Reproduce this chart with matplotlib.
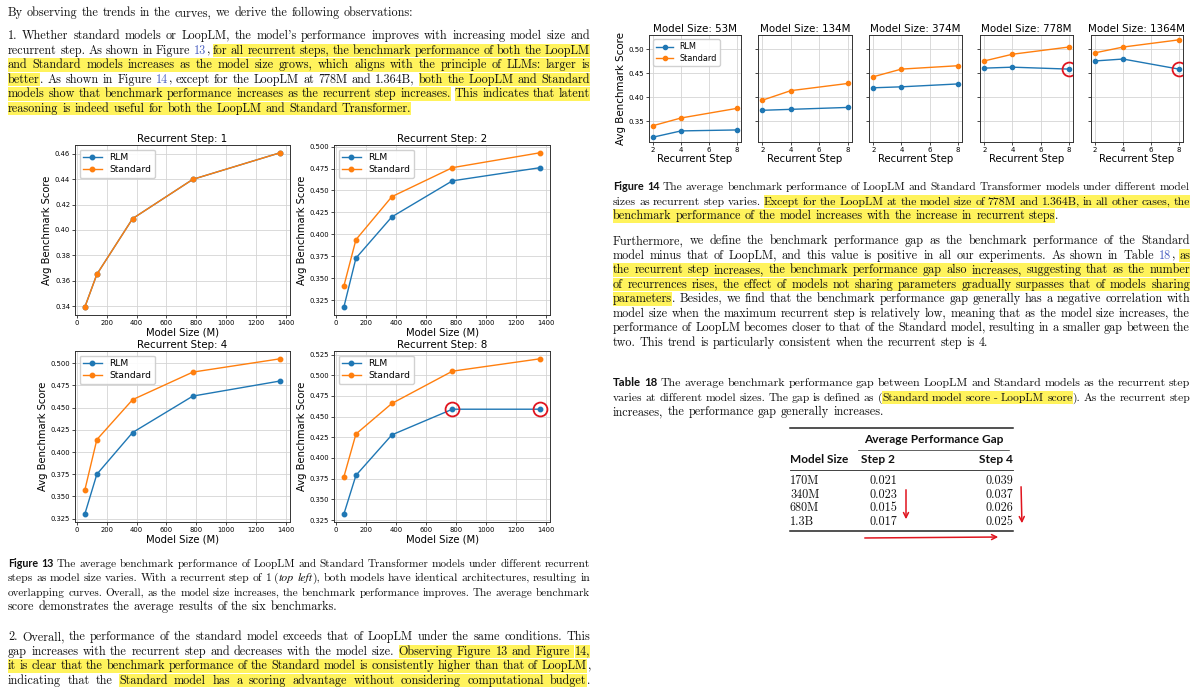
import re
import matplotlib
matplotlib.use('Agg')
import matplotlib.pyplot as plt
from matplotlib.patches import Rectangle, FancyArrowPatch
from matplotlib.lines import Line2D
from matplotlib.ticker import MultipleLocator

# ---------------- data ----------------
model_sizes = [53, 134, 374, 778, 1364]
model_size_labels = ['53M', '134M', '374M', '778M', '1364M']
rlm_step1 = [0.339, 0.365, 0.409, 0.440, 0.461]
std_step1 = [0.339, 0.365, 0.409, 0.440, 0.461]
rlm_step2 = [0.317, 0.373, 0.420, 0.461, 0.476]
std_step2 = [0.341, 0.394, 0.443, 0.476, 0.493]
rlm_step4 = [0.330, 0.375, 0.422, 0.463, 0.480]
std_step4 = [0.357, 0.414, 0.459, 0.490, 0.505]
rlm_step8 = [0.332, 0.379, 0.428, 0.459, 0.459]
std_step8 = [0.377, 0.429, 0.466, 0.505, 0.520]
fig14_steps = [2, 4, 8]
circled_sizes = [778, 1364]

table_sizes = ['170M', '340M', '680M', '1.3B']
gap_step2 = ['0.021', '0.023', '0.015', '0.017']
gap_step4 = ['0.039', '0.037', '0.026', '0.025']

# ---------------- style ----------------
W, H = 1200, 698
BLUE = '#1f77b4'
ORANGE = '#ff7f0e'
SERIF = 'cmr10'
ITAL = 'STIXGeneral'
SANS = 'Lato'
HL = '#fff35c'
LINK = '#4a5fc1'
INK = '#111111'
RED = '#e0141e'

fig = plt.figure(figsize=(W / 100, H / 100), dpi=100)
fig.patch.set_facecolor('white')
renderer = fig.canvas.get_renderer()


def px_rect(x0, y0, x1, y1):
    return [x0 / W, 1 - y1 / H, (x1 - x0) / W, (y1 - y0) / H]


def fxy(x, y):
    return x / W, 1 - y / H


def style_axes(ax):
    ax.grid(True, color='#d4d4d4', lw=0.6)
    ax.set_axisbelow(True)
    for sp in ax.spines.values():
        sp.set_color('#333333')
        sp.set_linewidth(0.7)


# ---------------- Figure 13 ----------------
f13_boxes = [(75, 145, 290, 315), (334, 145, 550, 315),
             (75, 351, 290, 522), (334, 351, 550, 522)]
f13_series = [(1, rlm_step1, std_step1), (2, rlm_step2, std_step2),
              (4, rlm_step4, std_step4), (8, rlm_step8, std_step8)]
f13_ystep = [0.02, 0.025, 0.025, 0.025]
for box, (step, r, s), ys in zip(f13_boxes, f13_series, f13_ystep):
    ax = fig.add_axes(px_rect(*box))
    style_axes(ax)
    ax.plot(model_sizes, r, marker='o', color=BLUE, ms=3.2, lw=1.0, label='RLM')
    ax.plot(model_sizes, s, marker='o', color=ORANGE, ms=3.2, lw=1.0, label='Standard')
    if step == 8:
        cy = [r[model_sizes.index(c)] for c in circled_sizes]
        ax.plot(circled_sizes, cy, ls='none', marker='o', ms=10, mfc='none',
                mec=RED, mew=1.3)
    ax.set_title(f'Recurrent Step: {step}', fontsize=7.4, pad=2)
    ax.set_xlabel('Model Size (M)', fontsize=7.2, labelpad=1)
    ax.set_ylabel('Avg Benchmark Score', fontsize=7.2, labelpad=2)
    ax.xaxis.set_major_locator(MultipleLocator(200))
    ax.yaxis.set_major_locator(MultipleLocator(ys))
    ax.tick_params(labelsize=4.9, length=2, width=0.5, pad=1.5)
    ax.legend(loc='upper left', fontsize=6.6, handlelength=2.0, borderpad=0.4,
              labelspacing=0.3, framealpha=0.9, edgecolor='#cccccc')

# ---------------- Figure 14 ----------------
f14_x = [(649, 741), (758, 852), (869, 962), (980, 1073), (1091, 1183)]
ax0 = None
for i, (x0, x1) in enumerate(f14_x):
    ax = fig.add_axes(px_rect(x0, 35, x1, 142), sharey=ax0)
    if ax0 is None:
        ax0 = ax
    style_axes(ax)
    r = [rlm_step2[i], rlm_step4[i], rlm_step8[i]]
    s = [std_step2[i], std_step4[i], std_step8[i]]
    ax.plot(fig14_steps, r, marker='o', color=BLUE, ms=3.0, lw=1.0, label='RLM')
    ax.plot(fig14_steps, s, marker='o', color=ORANGE, ms=3.0, lw=1.0, label='Standard')
    if model_sizes[i] in circled_sizes:
        ax.plot([fig14_steps[-1]], [r[-1]], ls='none', marker='o', ms=10, mfc='none',
                mec=RED, mew=1.3)
    ax.set_title(f'Model Size: {model_size_labels[i]}', fontsize=7.4, pad=2)
    ax.set_xlabel('Recurrent Step', fontsize=7.3, labelpad=1)
    ax.xaxis.set_major_locator(MultipleLocator(2))
    ax.yaxis.set_major_locator(MultipleLocator(0.05))
    ax.tick_params(labelsize=5.0, length=2, width=0.5, pad=1.5)
    if i == 0:
        ax.set_ylabel('Avg Benchmark Score', fontsize=7.4, labelpad=2)
        ax.legend(loc='upper left', fontsize=5.9, handlelength=2.0, borderpad=0.4,
                  labelspacing=0.3, framealpha=0.9, edgecolor='#cccccc')
    else:
        ax.tick_params(labelleft=False)

# ---------------- body text ----------------
LX0, LX1 = 8, 590
RX0, RX1 = 613, 1190

lines = [
    ("By observing the trends in the curves, we derive the following observations:", LX0, LX1, 13, False),
    ("1. Whether standard models or LoopLM, the model's performance improves with increasing model size and", LX0, LX1, 36, True),
    ("recurrent step. As shown in Figure {13}, [[for all recurrent steps, the benchmark performance of both the LoopLM]]", LX0, LX1, 50.5, True),
    ("[[and Standard models increases as the model size grows, which aligns with the principle of LLMs: larger is]]", LX0, LX1, 65, True),
    ("[[better]]. As shown in Figure {14}, except for the LoopLM at 778M and 1.364B, [[both the LoopLM and Standard]]", LX0, LX1, 79.5, True),
    ("[[models show that benchmark performance increases as the recurrent step increases.]] [[This indicates that latent]]", LX0, LX1, 94, True),
    ("[[reasoning is indeed useful for both the LoopLM and Standard Transformer.]]", LX0, LX1, 108.5, False),

    ("<<Figure 13>> The average benchmark performance of LoopLM and Standard Transformer models under different recurrent", LX0, LX1, 563.5, True),
    ("steps as model size varies. With a recurrent step of 1 (//top left//), both models have identical architectures, resulting in", LX0, LX1, 578, True),
    ("overlapping curves. Overall, as the model size increases, the benchmark performance improves. The average benchmark", LX0, LX1, 592.5, True),
    ("score demonstrates the average results of the six benchmarks.", LX0, LX1, 607, False),

    ("2. Overall, the performance of the standard model exceeds that of LoopLM under the same conditions. This", LX0, LX1, 637, True),
    ("gap increases with the recurrent step and decreases with the model size. [[Observing Figure 13 and Figure 14,]]", LX0, LX1, 651.5, True),
    ("[[it is clear that the benchmark performance of the Standard model is consistently higher than that of LoopLM]],", LX0, LX1, 666, True),
    ("indicating that the [[Standard model has a scoring advantage without considering computational budget]].", LX0, LX1, 680.5, True),

    ("<<Figure 14>> The average benchmark performance of LoopLM and Standard Transformer models under different model", RX0, RX1, 187, True),
    ("sizes as recurrent step varies. [[Except for the LoopLM at the model size of 778M and 1.364B, in all other cases, the]]", RX0, RX1, 201.5, True),
    ("[[benchmark performance of the model increases with the increase in recurrent steps]].", RX0, RX1, 216, False),

    ("Furthermore, we define the benchmark performance gap as the benchmark performance of the Standard", RX0, RX1, 241, True),
    ("model minus that of LoopLM, and this value is positive in all our experiments. As shown in Table {18}, [[as]]", RX0, RX1, 255.5, True),
    ("[[the recurrent step increases, the benchmark performance gap also increases, suggesting that as the number]]", RX0, RX1, 270, True),
    ("[[of recurrences rises, the effect of models not sharing parameters gradually surpasses that of models sharing]]", RX0, RX1, 284.5, True),
    ("[[parameters]]. Besides, we find that the benchmark performance gap generally has a negative correlation with", RX0, RX1, 299, True),
    ("model size when the maximum recurrent step is relatively low, meaning that as the model size increases, the", RX0, RX1, 313.5, True),
    ("performance of LoopLM becomes closer to that of the Standard model, resulting in a smaller gap between the", RX0, RX1, 328, True),
    ("two. This trend is particularly consistent when the recurrent step is 4.", RX0, RX1, 342.5, False),

    ("<<Table 18>> The average benchmark performance gap between LoopLM and Standard models as the recurrent step", RX0, RX1, 383, True),
    ("varies at different model sizes. The gap is defined as ([[Standard model score - LoopLM score]]). As the recurrent step", RX0, RX1, 397.5, True),
    ("increases, the performance gap generally increases.", RX0, RX1, 412, False),
]

_span = [0]


def parse_words(s):
    parts = re.split(r'(\[\[|\]\]|<<|>>|//|\{|\})', s)
    st = dict(hl=None, blue=False, bold=False, ital=False)
    pieces = []
    for p in parts:
        if p == '[[':
            _span[0] += 1
            st['hl'] = _span[0]
        elif p == ']]':
            st['hl'] = None
        elif p == '{':
            st['blue'] = True
        elif p == '}':
            st['blue'] = False
        elif p == '<<':
            st['bold'] = True
        elif p == '>>':
            st['bold'] = False
        elif p == '//':
            st['ital'] = not st['ital']
        elif p:
            pieces.append((p, dict(st)))
    words, cur = [], []
    for txt, sty in pieces:
        chunks = txt.split(' ')
        for j, ch in enumerate(chunks):
            if j > 0 and cur:
                words.append(cur)
                cur = []
            if ch:
                cur.append((ch, sty))
    if cur:
        words.append(cur)
    return words


FS0 = 7.5


def make_text(s, sty, fs):
    kw = dict(fontsize=fs, color=INK, va='baseline', ha='left')
    if sty['bold']:
        kw.update(family=SANS, weight='bold', fontsize=fs * 0.95)
    elif sty['ital']:
        kw.update(family=ITAL, style='italic', fontsize=fs * 1.03)
    else:
        kw.update(family=SERIF)
    if sty['blue']:
        kw['color'] = LINK
    return fig.text(0, 0, s, zorder=3, **kw)


def width(t):
    return t.get_window_extent(renderer).width


def spw(fs):
    return 0.333 * fs * 100 / 72


built = []
for txt, x0, x1, yc, just in lines:
    words = parse_words(txt)
    objs = [[(make_text(p, st, FS0), st) for p, st in w] for w in words]
    built.append([objs, x0, x1, yc, just])

# global font size: the first (short) line spans about 404 px in the reference
objs0 = built[0][0]
nat0 = sum(width(t) for w in objs0 for t, _ in w) + spw(FS0) * (len(objs0) - 1)
rscale = 404.0 / nat0
FS = FS0 * rscale
for objs, *_ in built:
    for w in objs:
        for t, _ in w:
            t.set_fontsize(t.get_fontsize() * rscale)

# per-line shrink when a justified line would overflow
for item in built:
    objs, x0, x1, yc, just = item
    tw = sum(width(t) for w in objs for t, _ in w)
    n = len(objs) - 1
    min_gap = spw(FS) * 0.8
    if tw + min_gap * n > (x1 - x0):
        k = ((x1 - x0) - min_gap * n) / tw
        for w in objs:
            for t, _ in w:
                t.set_fontsize(t.get_fontsize() * k)


def add_hl(x, base, w):
    fig.add_artist(Rectangle(fxy(x, base + 3.6), w / W, 13.8 / H,
                             transform=fig.transFigure, facecolor=HL,
                             edgecolor='none', zorder=0.5))


SP = spw(FS)
for objs, x0, x1, yc, just in built:
    base = yc + 3.3
    widths = [[width(t) for t, _ in w] for w in objs]
    tot = sum(sum(ws) for ws in widths)
    n = len(objs) - 1
    gap = (x1 - x0 - tot) / n if (just and n > 0) else SP
    x = x0
    for wi, (w, ws) in enumerate(zip(objs, widths)):
        for pj, ((t, st), pw) in enumerate(zip(w, ws)):
            t.set_position(fxy(x, base))
            if st['hl'] is not None:
                ext = pw
                if pj == len(w) - 1 and wi < n and objs[wi + 1][0][1]['hl'] == st['hl']:
                    ext += gap
                add_hl(x, base, ext)
            x += pw
        x += gap

# ---------------- Table 18 ----------------
TX0, TX1 = 790, 1013


def hrule(x0, x1, y, lw):
    fig.add_artist(Line2D([x0 / W, x1 / W], [1 - y / H, 1 - y / H],
                          transform=fig.transFigure, color='#222222', lw=lw))


hrule(TX0, TX1, 428, 1.1)
hrule(858, 1009, 450, 0.5)
hrule(TX0, TX1, 470, 0.6)
hrule(TX0, TX1, 531, 1.1)

HFS = FS * 0.98
fig.text(*fxy(934, 440 + 3.3), 'Average Performance Gap', family=SANS, weight='bold',
         fontsize=HFS, ha='center', va='baseline', color=INK)
fig.text(*fxy(TX0, 460 + 3.3), 'Model Size', family=SANS, weight='bold',
         fontsize=HFS, ha='left', va='baseline', color=INK)
fig.text(*fxy(861, 460 + 3.3), 'Step 2', family=SANS, weight='bold',
         fontsize=HFS, ha='left', va='baseline', color=INK)
fig.text(*fxy(TX1, 460 + 3.3), 'Step 4', family=SANS, weight='bold',
         fontsize=HFS, ha='right', va='baseline', color=INK)
row_y = [481, 494.5, 508, 521.5]
for yy, sz, g2, g4 in zip(row_y, table_sizes, gap_step2, gap_step4):
    fig.text(*fxy(TX0, yy + 3.3), sz, family=SERIF, fontsize=FS, ha='left', va='baseline', color=INK)
    fig.text(*fxy(883, yy + 3.3), g2, family=SERIF, fontsize=FS, ha='center', va='baseline', color=INK)
    fig.text(*fxy(TX1, yy + 3.3), g4, family=SERIF, fontsize=FS, ha='right', va='baseline', color=INK)

# red hand-drawn arrows
for (xa, ya), (xb, yb) in [((906, 487), (906, 522)), ((1021, 484), (1022, 526)),
                           ((862, 538), (1001, 537))]:
    fig.add_artist(FancyArrowPatch(fxy(xa, ya), fxy(xb, yb), transform=fig.transFigure,
                                   arrowstyle='->', mutation_scale=9, color=RED, lw=1.1))

fig.savefig('out.png', dpi=100, facecolor='white')
